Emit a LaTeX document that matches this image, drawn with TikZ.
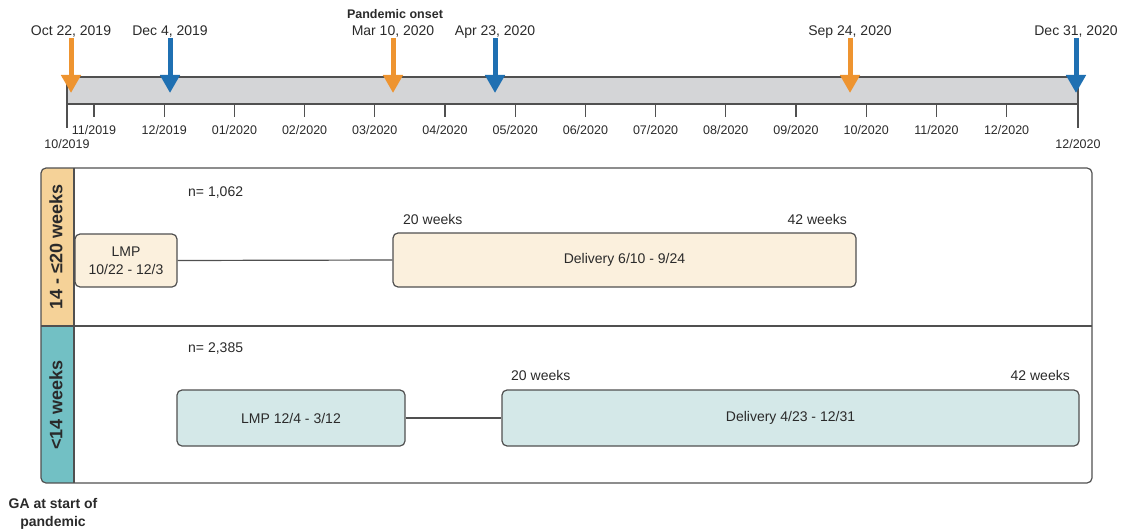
\documentclass[tikz,border=0pt]{standalone}
\usepackage{fontspec}
\setmainfont{Liberation Sans}
\usetikzlibrary{arrows.meta}
\definecolor{orng}{HTML}{EE9430}
\definecolor{blu}{HTML}{1F70B2}
\definecolor{barg}{HTML}{D4D5D7}
\definecolor{lineg}{HTML}{505050}
\definecolor{tanc}{HTML}{F5D298}
\definecolor{tealc}{HTML}{72C0C4}
\definecolor{creamc}{HTML}{FBF0DD}
\definecolor{palet}{HTML}{D4E8E8}
\definecolor{txt}{HTML}{2A2A2A}
\begin{document}
\begin{tikzpicture}[x=1pt,y=-1pt,
  every node/.style={text=txt, inner sep=0pt},
  datelbl/.style={font=\fontsize{14}{16}\selectfont},
  monthlbl/.style={font=\fontsize{12.5}{14}\selectfont},
  evarrow/.style={line width=5pt, -{Triangle[width=19pt,length=18pt]}},
  tickline/.style={draw=lineg, line width=1.2pt},
  phasebox/.style={draw=lineg, line width=1.2pt, rounded corners=5pt, font=\fontsize{14}{18}\selectfont, align=center},
  weeklbl/.style={font=\fontsize{14}{16}\selectfont},
  grplbl/.style={rotate=90, font=\bfseries\fontsize{18}{20}\selectfont},
  conn/.style={draw=lineg, line width=1.2pt}
]
\useasboundingbox (0,0) rectangle (1121,532);

% timeline bar
\draw[fill=barg, draw=lineg, line width=1.2pt] (67,77) rectangle (1078,104);
\draw[tickline] (67,104) -- (67,128);
\draw[tickline] (1078,104) -- (1078,128);
\node[monthlbl] (m0) at (67,144) {10/2019};
\node[monthlbl] (mend) at (1078,144) {12/2020};
\foreach \k/\lab in {0/11\slash 2019,1/12\slash 2019,2/01\slash 2020,3/02\slash 2020,4/03\slash 2020,5/04\slash 2020,6/05\slash 2020,7/06\slash 2020,8/07\slash 2020,9/08\slash 2020,10/09\slash 2020,11/10\slash 2020,12/11\slash 2020,13/12\slash 2020}{
  \draw[tickline] (94+70.2*\k,104) -- (94+70.2*\k,117);
  \node[monthlbl] (mk\k) at (94+70.2*\k,130) {\lab};
}

% event labels and arrows
\node[datelbl] (e1) at (71,32) {Oct 22, 2019};
\node[datelbl] (e2) at (170,32) {Dec 4, 2019};
\node[font=\bfseries\fontsize{12.5}{14}\selectfont] (pand) at (395,14) {Pandemic onset};
\node[datelbl] (e3) at (393,32) {Mar 10, 2020};
\node[datelbl] (e4) at (495,32) {Apr 23, 2020};
\node[datelbl] (e5) at (850,32) {Sep 24, 2020};
\node[datelbl] (e6) at (1076,32) {Dec 31, 2020};
\coordinate (t1) at (71,93);
\coordinate (t2) at (170,93);
\coordinate (t3) at (393,93);
\coordinate (t4) at (495,93);
\coordinate (t5) at (850,93);
\coordinate (t6) at (1076,93);
\draw[evarrow, orng] (71,38) -- (t1);
\draw[evarrow, blu] (170,38) -- (t2);
\draw[evarrow, orng] (393,38) -- (t3);
\draw[evarrow, blu] (495,38) -- (t4);
\draw[evarrow, orng] (850,38) -- (t5);
\draw[evarrow, blu] (1076,38) -- (t6);

% lower panel
\begin{scope}
  \clip[rounded corners=5pt] (41,168) rectangle (1092,483);
  \fill[tanc] (41,168) rectangle (74,326);
  \fill[tealc] (41,326) rectangle (74,483);
\end{scope}
\draw[draw=lineg, line width=1.2pt, rounded corners=5pt] (41,168) rectangle (1092,483);
\draw[conn] (41,326) -- (1092,326);
\draw[conn] (74,168) -- (74,483);

\node[grplbl] (g1) at (56,247) {14 - ≤20 weeks};
\node[grplbl] (g2) at (56,405) {<14 weeks};

% row 1
\node[weeklbl, anchor=west] (n1) at (188,193) {n= 1,062};
\node[phasebox, fill=creamc, minimum width=102pt, minimum height=53pt] (lmp1) at (126,260.5) {LMP\\10/22 - 12/3};
\node[phasebox, fill=creamc, minimum width=463pt, minimum height=54pt] (del1) at (624.5,260) {Delivery 6/10 - 9/24};
\draw[conn] (lmp1.east) -- (del1.west);
\node[weeklbl, anchor=west] (w20a) at (403,219) {20 weeks};
\node[weeklbl, anchor=east] (w42a) at (847,219) {42 weeks};

% row 2
\node[weeklbl, anchor=west] (n2) at (188,349) {n= 2,385};
\node[phasebox, fill=palet, minimum width=228pt, minimum height=56pt] (lmp2) at (291,418) {LMP 12/4 - 3/12};
\node[phasebox, fill=palet, minimum width=577pt, minimum height=56pt] (del2) at (790.5,418) {Delivery 4/23 - 12/31};
\draw[conn] (lmp2.east) -- (del2.west);
\node[weeklbl, anchor=west] (w20b) at (511,375) {20 weeks};
\node[weeklbl, anchor=east] (w42b) at (1070,375) {42 weeks};

\node[align=center, font=\bfseries\fontsize{14}{18}\selectfont] (ga) at (53,514) {GA at start of\\pandemic};
\end{tikzpicture}
\end{document}
